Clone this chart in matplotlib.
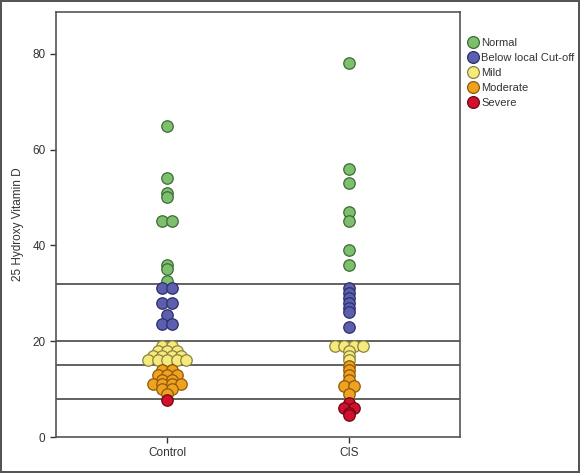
import matplotlib
matplotlib.use("Agg")
import matplotlib.pyplot as plt
import numpy as np
from matplotlib.lines import Line2D

plt.rcParams["font.family"] = ["Liberation Sans", "DejaVu Sans"]

groups = ["Control", "CIS"]
categories = ["Normal", "Below local Cut-off", "Mild", "Moderate", "Severe"]
face_colors = ["#7cc06e", "#5b5fae", "#f6ea7c", "#f0a11f", "#d2102b"]
edge_colors = ["#3f6a36", "#2c2f6a", "#8a8240", "#8c5a0c", "#6d0a18"]

# values, one list per group and category
control_normal = [65, 54, 51, 50, 45, 45, 36, 35, 32.5]
control_below = [31, 31, 28, 28, 25.5, 23.5, 23.5]
control_mild = [19, 19, 18, 18, 18, 17, 17, 17, 17, 16, 16, 16, 16, 16]
control_moderate = [14, 14, 13, 13, 13, 12, 12, 11, 11, 11, 11, 10, 10, 9]
control_severe = [7.8]

cis_normal = [78, 56, 53, 47, 45, 39, 36]
cis_below = [31, 30, 29, 28, 27, 26, 23]
cis_mild = [19, 19, 19, 19, 18, 17, 16]
cis_moderate = [14.8, 14, 13, 12, 10.6, 10.6, 9]
cis_severe = [7, 6, 6, 5, 4.6]

cut_offs = [32, 20, 15, 8]

data = {
    "Control": [control_normal, control_below, control_mild, control_moderate, control_severe],
    "CIS": [cis_normal, cis_below, cis_mild, cis_moderate, cis_severe],
}

fig = plt.figure(figsize=(5.8, 4.73), dpi=100)
fig.patch.set_edgecolor("#555555")
fig.patch.set_linewidth(1.5)
ax = fig.add_axes([0.0966, 0.0761, 0.6966, 0.8985])

for y in cut_offs:
    ax.axhline(y, color="#555555", lw=1.3, zorder=1)

step = 0.052
for gi, g in enumerate(groups):
    vals, cats = [], []
    for ci, lst in enumerate(data[g]):
        vals += lst
        cats += [ci] * len(lst)
    vals = np.array(vals, dtype=float)
    cats = np.array(cats)
    # side-by-side dots for equal values
    xs = np.zeros(len(vals))
    for v in np.unique(vals):
        idx = np.where(vals == v)[0]
        n = len(idx)
        xs[idx] = gi + 1 + (np.arange(n) - (n - 1) / 2) * step
    order = np.argsort(-vals, kind="stable")
    for k, i in enumerate(order):
        ax.scatter(xs[i], vals[i], s=68, color=face_colors[cats[i]],
                   edgecolors=edge_colors[cats[i]], linewidths=0.9, zorder=3 + k * 0.01)

ax.set_xlim(0.39, 2.61)
ax.set_ylim(0, 88.7)
ax.set_xticks([1, 2])
ax.set_xticklabels(groups)
ax.set_yticks([0, 20, 40, 60, 80])
ax.tick_params(labelsize=8.5, colors="#333333", length=4, width=1)
ax.set_ylabel("25 Hydroxy Vitamin D", fontsize=8.5, color="#333333", labelpad=6)
for sp in ax.spines.values():
    sp.set_color("#555555")
    sp.set_linewidth(1.2)

handles = [Line2D([], [], marker="o", ls="", markersize=8.5, markerfacecolor=fc,
                  markeredgecolor=ec, markeredgewidth=0.9)
           for fc, ec in zip(face_colors, edge_colors)]
ax.legend(handles, categories, loc="upper left", bbox_to_anchor=(1.0, 0.955),
          frameon=False, fontsize=8, handletextpad=0.1, labelspacing=0.45,
          borderaxespad=0.2, handlelength=1.2, labelcolor="#333333")

fig.savefig("out.png", dpi=100)
